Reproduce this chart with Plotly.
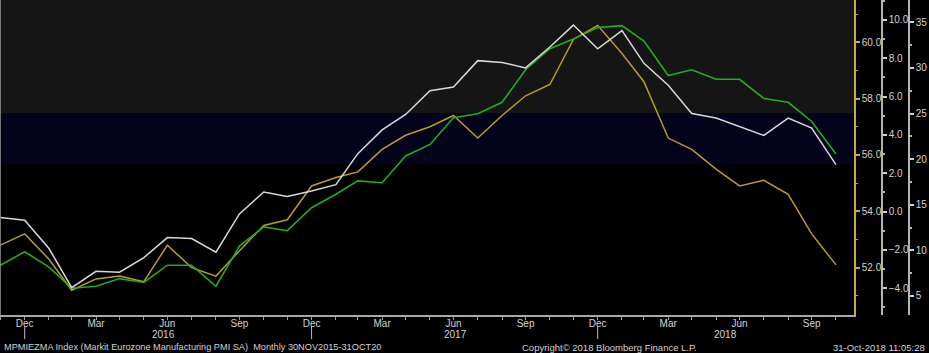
import plotly.graph_objects as go
import pandas as pd

# Monthly observations, 30 Nov 2015 .. 31 Oct 2018
dates = pd.date_range("2015-11-30", periods=36, freq="ME")

# Markit Eurozone Manufacturing PMI SA (orange, left-most right axis)
pmi = [52.8, 53.2, 52.3, 51.2, 51.6, 51.7, 51.5, 52.8, 52.0, 51.7, 52.6, 53.5,
       53.7, 54.9, 55.2, 55.4, 56.2, 56.7, 57.0, 57.4, 56.6, 57.4, 58.1, 58.5,
       60.1, 60.6, 59.6, 58.6, 56.6, 56.2, 55.5, 54.9, 55.1, 54.6, 53.2, 52.1]

# Green series (middle axis, -4 .. 10)
green = [-2.8, -2.1, -2.9, -4.0, -3.9, -3.5, -3.7, -2.8, -2.8, -3.9, -1.8, -0.8,
         -1.0, 0.2, 0.9, 1.6, 1.5, 2.9, 3.5, 4.9, 5.1, 5.7, 7.4, 8.5,
         9.0, 9.6, 9.7, 8.9, 7.1, 7.4, 6.9, 6.9, 5.9, 5.7, 4.7, 3.0]

# White series (right-most axis, 5 .. 35)
white = [13.6, 13.3, 10.2, 5.9, 7.7, 7.6, 9.2, 11.4, 11.3, 9.8, 14.0, 16.4,
         15.9, 16.5, 17.2, 20.6, 23.2, 24.9, 27.5, 27.9, 30.8, 30.6, 30.0, 32.3,
         34.7, 32.1, 34.1, 30.5, 28.1, 25.0, 24.5, 23.6, 22.6, 24.5, 23.4, 19.4]

month_abbr = {12: "Dec", 3: "Mar", 6: "Jun", 9: "Sep"}
tick_dates = [d for d in dates if d.month in month_abbr]
tick_text = [month_abbr[d.month] for d in tick_dates]
year_dates = [d for d in dates if d.month == 12]
year_labels = [("2016", "2016-06-25"), ("2017", "2017-07-02"), ("2018", "2018-06-12")]

W, H = 929, 353
PLOT_H = 315
FONT = "Liberation Sans"
TXT = "#d2d2d2"
GOLD = "#c8ae38"

fig = go.Figure()
fig.add_trace(go.Scatter(x=dates, y=white, yaxis="y3", mode="lines",
                         line=dict(color="#d8d8d8", width=1.5)))
fig.add_trace(go.Scatter(x=dates, y=green, yaxis="y2", mode="lines",
                         line=dict(color="#1fae1f", width=1.6)))
fig.add_trace(go.Scatter(x=dates, y=pmi, yaxis="y", mode="lines",
                         line=dict(color="#b79c2b", width=1.5)))

shapes = [
    dict(type="rect", xref="x domain", yref="y domain", x0=0, x1=1,
         y0=(PLOT_H - 113.5) / PLOT_H, y1=1, fillcolor="#151515", line_width=0, layer="below"),
    dict(type="rect", xref="x domain", yref="y domain", x0=0, x1=1,
         y0=(PLOT_H - 164.5) / PLOT_H, y1=(PLOT_H - 113.5) / PLOT_H,
         fillcolor="#03031b", line_width=0, layer="below"),
    dict(type="line", xref="x domain", yref="y domain", x0=0, x1=0, y0=0, y1=1,
         line=dict(color="#9a9a9a", width=1.5)),
]
for d in year_dates:
    shapes.append(dict(type="line", xref="x", yref="paper", x0=d, x1=d,
                       y0=-(326 - PLOT_H) / PLOT_H, y1=-(339 - PLOT_H) / PLOT_H,
                       line=dict(color="#bdbdbd", width=1)))

annotations = []
for lab, pos in year_labels:
    annotations.append(dict(text=lab, x=pos, xref="x", y=-(334 - PLOT_H) / PLOT_H, yref="paper",
                            showarrow=False, xanchor="center", yanchor="middle",
                            font=dict(family=FONT, size=10, color=TXT)))
annotations += [
    dict(text="MPMIEZMA Index (Markit Eurozone Manufacturing PMI SA)  Monthly 30NOV2015-31OCT20",
         x=2 / W, xref="paper", y=-(347 - PLOT_H) / PLOT_H, yref="paper", showarrow=False,
         xanchor="left", yanchor="middle", font=dict(family=FONT, size=9.2, color=TXT)),
    dict(text="Copyright\u00a9 2018 Bloomberg Finance L.P.",
         x=520 / W, xref="paper", y=-(347 - PLOT_H) / PLOT_H, yref="paper", showarrow=False,
         xanchor="left", yanchor="middle", font=dict(family=FONT, size=9.5, color=TXT)),
    dict(text="31-Oct-2018 11:05:28",
         x=927 / W, xref="paper", y=-(347 - PLOT_H) / PLOT_H, yref="paper", showarrow=False,
         xanchor="right", yanchor="middle", font=dict(family=FONT, size=9.5, color=TXT)),
]

fig.update_layout(
    width=W, height=H,
    margin=dict(l=0, r=0, t=0, b=H - PLOT_H),
    paper_bgcolor="#000000", plot_bgcolor="#000000",
    showlegend=False,
    font=dict(family=FONT, size=10, color=TXT),
    shapes=shapes, annotations=annotations,
    xaxis=dict(domain=[0, 854 / W], range=["2015-11-29 12:00", "2018-11-23"],
               tickmode="array", tickvals=tick_dates, ticktext=tick_text,
               ticks="outside", ticklen=3, tickcolor="#9a9a9a", ticklabelstandoff=-5,
               minor=dict(tickvals=list(dates), ticks="outside", ticklen=3, tickcolor="#9a9a9a"),
               showline=True, linecolor="#a8a8a8", linewidth=1.5,
               showgrid=False, zeroline=False,
               tickfont=dict(family=FONT, size=10, color=TXT)),
    yaxis=dict(side="right", anchor="x", range=[50.32, 61.5], dtick=2, tickformat=".1f",
               showline=True, linecolor=GOLD, linewidth=1.5,
               ticks="outside", ticklen=4, tickwidth=2, tickcolor=GOLD,
               minor=dict(dtick=1, ticks="outside", ticklen=2, tickwidth=1, tickcolor=GOLD),
               showgrid=False, zeroline=False,
               tickfont=dict(family=FONT, size=10, color=TXT)),
    yaxis2=dict(side="right", overlaying="y", anchor="free", position=882 / W,
                range=[-5.40, 11.04], dtick=2, tickformat=".1f",
                showline=True, linecolor="#b5b5b5", linewidth=1.5,
                ticks="outside", ticklen=4, tickwidth=1.5, tickcolor="#d0d0d0",
                minor=dict(dtick=1, ticks="outside", ticklen=2, tickcolor="#b5b5b5"),
                showgrid=False, zeroline=False,
                tickfont=dict(family=FONT, size=10, color=TXT)),
    yaxis3=dict(side="right", overlaying="y", anchor="free", position=909 / W,
                range=[2.91, 37.45], dtick=5,
                showline=True, linecolor="#b5b5b5", linewidth=1.5,
                ticks="outside", ticklen=4, tickwidth=1.5, tickcolor="#d0d0d0",
                minor=dict(dtick=2.5, ticks="outside", ticklen=2, tickcolor="#b5b5b5"),
                showgrid=False, zeroline=False,
                tickfont=dict(family=FONT, size=10, color=TXT)),
)

fig.write_html("out.html")
